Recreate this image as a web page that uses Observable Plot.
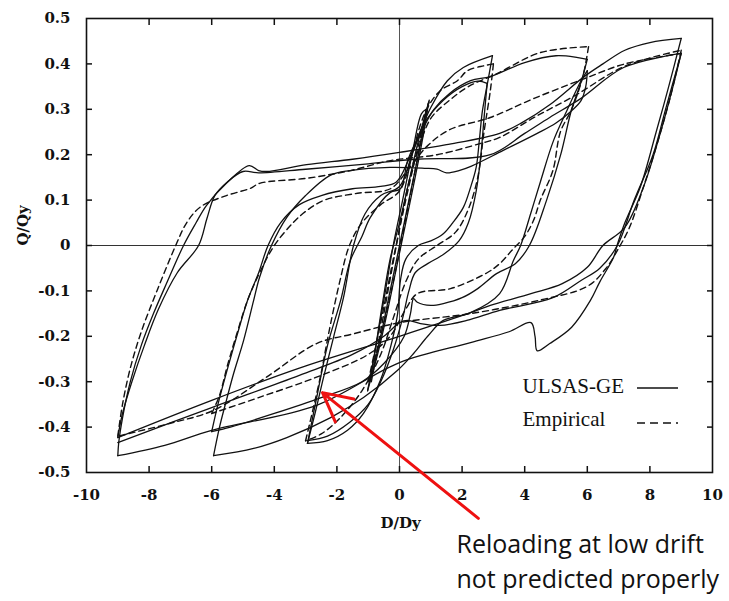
<!DOCTYPE html>
<html><head><meta charset="utf-8">
<script src="https://cdn.jsdelivr.net/npm/d3@7"></script>
<script src="https://cdn.jsdelivr.net/npm/@observablehq/plot@0.6"></script>
<style>body{margin:0;background:#fff}</style>
</head><body><div id="chart"></div>
<script>
// ---- tick labels ----
const xTicks = [-10,-8,-6,-4,-2,0,2,4,6,8,10];
const yTicks = [-0.5,-0.4,-0.3,-0.2,-0.1,0,0.1,0.2,0.3,0.4,0.5];
const xLabel = "D/Dy";
const yLabel = "Q/Qy";
const seriesNames = ["ULSAS-GE","Empirical"];
const noteLines = ["Reloading at low drift","not predicted properly"];

// ---- ULSAS-GE (solid) branches, [D/Dy, Q/Qy] ----
const ulsasUp9a = [[-9.0,-0.463],[-8.97,-0.434],[-8.85,-0.38],[-8.6,-0.3],[-8.25,-0.22],[-7.86,-0.15],[-7.42,-0.08],[-6.9,0],[-6.5,0.05],[-6.17,0.088],[-5.53,0.137],[-4.8,0.176],[-4.5,0.165],[-4.25,0.163],[-2.97,0.178],[-1.5,0.19],[0,0.205],[1.5,0.222],[3.2,0.247],[3.9,0.27],[4.8,0.31],[5.9,0.372],[6.5,0.4],[7.2,0.43],[8.0,0.447],[9.0,0.456]];
const ulsasDn9a = [[9.0,0.456],[8.6,0.35],[8.2,0.25],[7.7,0.13],[7.2,0.05],[6.95,0],[6.84,-0.026],[6.4,-0.08],[6.1,-0.121],[5.5,-0.18],[4.8,-0.216],[4.4,-0.232],[4.33,-0.2],[4.2,-0.17],[3.5,-0.19],[2.27,-0.214],[0,-0.258],[-2.65,-0.352],[-6.0,-0.407],[-7.5,-0.44],[-9.0,-0.463]];
const ulsasUp9b = [[-9.0,-0.423],[-8.85,-0.37],[-8.55,-0.3],[-8.15,-0.22],[-7.7,-0.14],[-7.1,-0.06],[-6.42,0],[-6.15,0.06],[-5.9,0.11],[-5.5,0.14],[-5.0,0.163],[-4.5,0.16],[-3.0,0.168],[-1.0,0.18],[0.5,0.19],[2.9,0.2],[4.0,0.247],[4.8,0.282],[5.8,0.324],[7.16,0.392],[8.98,0.423]];
const ulsasDn9b = [[9.0,0.423],[8.7,0.34],[8.3,0.24],[7.8,0.13],[7.2,0.04],[6.5,0],[6.0,-0.048],[5.2,-0.084],[4.2,-0.106],[2.9,-0.132],[2.27,-0.148],[0,-0.2],[-3.2,-0.27],[-6.0,-0.341],[-9.0,-0.423]];
const ulsasDn9c = [[9.0,0.423],[8.5,0.3],[8.1,0.2],[7.5,0.1],[6.96,0],[6.4,-0.05],[5.8,-0.077],[4.9,-0.115],[3.2,-0.143],[2.15,-0.165],[1.3,-0.176],[0.67,-0.172],[0.26,-0.165],[0,-0.17],[-0.5,-0.2],[-1.5,-0.24],[-3.2,-0.286],[-6.0,-0.357],[-9.0,-0.434]];
const ulsasUp6a = [[-5.94,-0.463],[-5.75,-0.4],[-5.53,-0.341],[-5.3,-0.282],[-4.98,-0.209],[-4.66,-0.121],[-4.47,-0.07],[-4.09,0],[-3.6,0.062],[-3.0,0.11],[-2.2,0.155],[-1.57,0.165],[-0.3,0.172],[0.8,0.17],[1.2,0.168],[1.5,0.16],[1.9,0.165],[2.3,0.175],[3.3,0.209],[4.4,0.247],[5.0,0.27],[5.5,0.297],[5.8,0.319],[5.95,0.35],[6.0,0.385]];
const ulsasDn6a = [[6.0,0.385],[5.78,0.36],[5.3,0.29],[4.92,0.231],[4.5,0.14],[4.19,0.07],[3.87,0],[3.64,-0.033],[3.2,-0.106],[2.27,-0.148],[1.4,-0.165],[0.9,-0.2],[0.45,-0.238],[-0.06,-0.275],[-1.15,-0.335],[-2.2,-0.379],[-3.6,-0.423],[-4.66,-0.447],[-5.94,-0.463]];
const ulsasUp6b = [[-6.0,-0.41],[-5.8,-0.35],[-5.53,-0.28],[-5.2,-0.2],[-4.85,-0.12],[-4.5,-0.06],[-4.2,0],[-3.8,0.05],[-3.2,0.09],[-2.5,0.11],[-1.5,0.125],[-0.6,0.13],[-0.1,0.14],[0.3,0.19],[0.7,0.25],[1.1,0.3],[1.6,0.335],[2.27,0.363],[2.9,0.372],[4.0,0.403],[5.0,0.418],[5.7,0.414],[6.0,0.41]];
const ulsasDn6b = [[6.0,0.41],[5.8,0.36],[5.5,0.3],[5.15,0.2],[4.7,0.1],[4.15,0],[3.7,-0.04],[3.1,-0.062],[2.5,-0.095],[2.0,-0.115],[1.4,-0.128],[1.0,-0.132],[0.57,-0.125],[0.45,-0.117],[0.35,-0.15],[0.15,-0.2],[-0.5,-0.26],[-1.2,-0.3],[-2.5,-0.335],[-4.0,-0.37],[-5.4,-0.4],[-6.0,-0.41]];
const ulsasUp3a = [[-2.94,-0.436],[-2.62,-0.326],[-2.3,-0.22],[-1.88,-0.121],[-1.57,-0.033],[-1.2,0.02],[-0.93,0.062],[-0.29,0.117],[0.03,0.125],[0.26,0.187],[0.58,0.238],[1.0,0.304],[1.53,0.363],[2.04,0.392],[2.97,0.418]];
const ulsasDn3a = [[2.97,0.418],[2.81,0.357],[2.65,0.297],[2.55,0.231],[2.45,0.172],[2.27,0.128],[2.04,0.084],[1.7,0.05],[1.4,0.026],[1.0,0.01],[0.6,0.0],[0.2,-0.03],[0.03,-0.077],[-0.06,-0.15],[-0.29,-0.225],[-0.61,-0.297],[-1.15,-0.37],[-1.66,-0.407],[-2.3,-0.43],[-2.94,-0.436]];
const ulsasUp3b = [[-2.94,-0.436],[-2.7,-0.37],[-2.46,-0.3],[-2.1,-0.2],[-1.79,-0.115],[-1.47,0],[-1.1,0.07],[-0.6,0.11],[0,0.13],[0.4,0.2],[0.8,0.27],[1.4,0.32],[2.0,0.35],[2.5,0.362],[2.8,0.357]];
const ulsasDn3b = [[2.8,0.357],[2.7,0.28],[2.6,0.2],[2.45,0.12],[2.2,0.05],[1.9,0.01],[1.4,-0.02],[0.9,-0.04],[0.5,-0.06],[0.3,-0.1],[0.1,-0.16],[-0.2,-0.23],[-0.6,-0.3],[-1.0,-0.35],[-1.6,-0.39],[-2.3,-0.42],[-2.94,-0.43]];
const ulsasUp1a = [[-1.02,-0.32],[-0.8,-0.24],[-0.55,-0.13],[-0.3,-0.03],[0,0.05],[0.3,0.14],[0.6,0.23],[0.93,0.315]];
const ulsasDn1a = [[0.93,0.315],[0.75,0.24],[0.5,0.15],[0.2,0.05],[-0.1,-0.05],[-0.4,-0.15],[-0.7,-0.24],[-1.02,-0.32]];
const ulsasUp1b = [[-0.95,-0.3],[-0.7,-0.2],[-0.45,-0.1],[-0.2,0.0],[0.1,0.1],[0.4,0.2],[0.7,0.29],[0.85,0.3]];
const ulsasDn1b = [[0.85,0.3],[0.6,0.2],[0.3,0.1],[0,0],[-0.3,-0.1],[-0.6,-0.2],[-0.9,-0.29]];

// ---- Empirical (dashed) branches ----
const empUp9 = [[-9.0,-0.42],[-8.85,-0.35],[-8.6,-0.27],[-8.25,-0.19],[-7.75,-0.1],[-7.15,0],[-6.8,0.05],[-6.36,0.085],[-5.53,0.11],[-4.76,0.126],[-4.47,0.137],[-2.97,0.148],[-1.57,0.165],[-0.29,0.187],[1.2,0.2],[2.6,0.225],[3.2,0.238],[4.3,0.282],[5.6,0.33],[7.2,0.395],[9.0,0.43]];
const empDn9 = [[9.0,0.43],[8.7,0.34],[8.3,0.24],[7.8,0.13],[7.35,0.04],[7.05,0],[6.6,-0.05],[6.0,-0.09],[4.5,-0.12],[2.27,-0.15],[0,-0.17],[-1.5,-0.195],[-2.65,-0.216],[-4.25,-0.29],[-5.94,-0.363],[-7.35,-0.392],[-9.0,-0.42]];
const empUp6a = [[-6.0,-0.37],[-5.75,-0.33],[-5.5,-0.265],[-5.2,-0.195],[-4.85,-0.12],[-4.47,-0.06],[-4.0,0],[-3.4,0.05],[-3.0,0.075],[-2.4,0.1],[-1.34,0.115],[-0.29,0.125],[0.3,0.17],[0.9,0.22],[1.6,0.255],[2.9,0.282],[4.3,0.324],[6.0,0.37],[7.2,0.4],[9.0,0.423]];
const empUp6b = [[-0.9,-0.3],[-0.5,-0.15],[-0.1,0.0],[0.3,0.14],[0.6,0.21],[1.0,0.28],[1.6,0.32],[2.2,0.35],[3.13,0.379],[4.5,0.425],[6.04,0.438]];
const empDn6 = [[6.04,0.438],[5.85,0.37],[5.5,0.3],[5.14,0.25],[4.9,0.165],[4.5,0.1],[4.28,0.055],[4.0,0.02],[3.6,-0.01],[3.2,-0.04],[2.8,-0.06],[1.63,-0.095],[0.57,-0.106],[0.2,-0.14],[-0.3,-0.2],[-1.0,-0.24],[-2.65,-0.29],[-4.5,-0.335],[-6.0,-0.37]];
const empUp3 = [[-3.0,-0.43],[-2.75,-0.357],[-2.5,-0.28],[-2.35,-0.225],[-2.2,-0.172],[-1.9,-0.077],[-1.6,0],[-1.2,0.05],[-0.6,0.09],[0,0.12],[0.4,0.2],[0.66,0.264],[0.9,0.304],[1.3,0.341],[1.85,0.363],[2.17,0.385],[2.7,0.396],[3.0,0.4]];
const empDn3 = [[3.0,0.4],[2.9,0.34],[2.7,0.25],[2.5,0.15],[2.2,0.08],[1.8,0.03],[1.2,0],[0.6,-0.03],[0.2,-0.08],[-0.2,-0.16],[-0.6,-0.24],[-1.2,-0.32],[-1.9,-0.38],[-2.5,-0.415],[-3.0,-0.43]];
const empUp1 = [[-1.0,-0.3],[-0.6,-0.17],[-0.2,-0.03],[0.2,0.1],[0.6,0.22],[0.95,0.32]];
const empDn1 = [[0.95,0.32],[0.6,0.2],[0.2,0.06],[-0.2,-0.08],[-0.6,-0.2],[-1.0,-0.3]];

// annotation arrow: tail (below axis) -> tip
const arrowTail = [2.52, -0.601];
const arrowTip = [-2.46, -0.324];

const solidPaths = [ulsasUp9a,ulsasDn9a,ulsasUp9b,ulsasDn9b,ulsasDn9c,ulsasUp6a,ulsasDn6a,ulsasUp6b,ulsasDn6b,ulsasUp3a,ulsasDn3a,ulsasUp3b,ulsasDn3b,ulsasUp1a,ulsasDn1a,ulsasUp1b,ulsasDn1b];
const dashedPaths = [empUp9,empDn9,empUp6a,empUp6b,empDn6,empUp3,empDn3,empUp1,empDn1];
const toRows = (paths, tag) => paths.flatMap((p, i) => p.map(([x, y]) => ({x, y, id: tag + i})));
const solidRows = toRows(solidPaths, "s");
const dashedRows = toRows(dashedPaths, "d");
const arrowRows = [{x1: arrowTail[0], y1: arrowTail[1], x2: arrowTip[0], y2: arrowTip[1]}];

const W = 729, H = 601, mL = 86, mR = 17, mT = 18, mB = 129;
const ink = "#111";
const axisFont = "'DejaVu Serif', serif";
const legendFont = "'Liberation Serif', 'DejaVu Serif', serif";
const noteFont = "'Open Sans', Lato, sans-serif";

const plot = Plot.plot({
  width: W, height: H,
  marginLeft: mL, marginRight: mR, marginTop: mT, marginBottom: mB,
  style: {fontFamily: axisFont, fontSize: "15px", background: "#fff", color: ink},
  x: {domain: [-10, 10]},
  y: {domain: [-0.5, 0.5]},
  marks: [
    Plot.ruleY([0], {stroke: "#333", strokeWidth: 1.2}),
    Plot.ruleX([0], {stroke: "#555", strokeWidth: 1}),
    Plot.line(solidRows, {x: "x", y: "y", z: "id", stroke: ink, strokeWidth: 1.3, curve: "catmull-rom"}),
    Plot.line(dashedRows, {x: "x", y: "y", z: "id", stroke: ink, strokeWidth: 1.4, strokeDasharray: "6,4", curve: "catmull-rom"}),
    Plot.frame({stroke: ink, strokeWidth: 1.6}),
    Plot.axisX(xTicks, {anchor: "bottom", tickSize: 0, tickPadding: 17, tickFormat: d => String(d), label: null, fontSize: 15, fontWeight: "bold"}),
    Plot.axisX(xTicks.slice(1, -1), {anchor: "bottom", tickSize: -6, tickFormat: () => "", label: null, strokeWidth: 1.5}),
    Plot.axisX(xTicks.slice(1, -1), {anchor: "top", tickSize: -6, tickFormat: () => "", label: null, strokeWidth: 1.5}),
    Plot.axisY(yTicks, {anchor: "left", tickSize: 0, tickPadding: 16, tickFormat: d => String(d), label: null, fontSize: 15, fontWeight: "bold"}),
    Plot.axisY(yTicks.slice(1, -1), {anchor: "left", tickSize: -6, tickFormat: () => "", label: null, strokeWidth: 1.5}),
    Plot.axisY(yTicks.slice(1, -1), {anchor: "right", tickSize: -6, tickFormat: () => "", label: null, strokeWidth: 1.5}),
    Plot.text([yLabel], {frameAnchor: "left", dx: -63, rotate: -90, fontSize: 15, fontWeight: "bold"}),
    Plot.text([xLabel], {frameAnchor: "bottom", dx: 1, dy: 55, fontSize: 15, fontWeight: "bold"}),
    Plot.text([seriesNames[0]], {frameAnchor: "bottom-right", dx: -190, dy: -80, textAnchor: "start", fontFamily: legendFont, fontSize: 21}),
    Plot.text([seriesNames[1]], {frameAnchor: "bottom-right", dx: -190, dy: -47, textAnchor: "start", fontFamily: legendFont, fontSize: 21}),
    Plot.arrow(arrowRows, {x1: "x1", y1: "y1", x2: "x2", y2: "y2", stroke: "#ee1111", strokeWidth: 3, headLength: 16, headAngle: 55}),
    Plot.text([noteLines[0]], {frameAnchor: "bottom-left", dx: 370, dy: 80, textAnchor: "start", fontFamily: noteFont, fontSize: 25, fill: "#111"}),
    Plot.text([noteLines[1]], {frameAnchor: "bottom-left", dx: 370, dy: 115, textAnchor: "start", fontFamily: noteFont, fontSize: 25, fill: "#111"})
  ]
});

// legend line samples (inside the frame, lower right)
const svg = d3.select(plot);
const right = W - mR, bottom = H - mB;
svg.append("line").attr("x1", right - 75).attr("x2", right - 34).attr("y1", bottom - 84).attr("y2", bottom - 84)
  .attr("stroke", ink).attr("stroke-width", 1.4);
svg.append("line").attr("x1", right - 75).attr("x2", right - 34).attr("y1", bottom - 49).attr("y2", bottom - 49)
  .attr("stroke", ink).attr("stroke-width", 1.4).attr("stroke-dasharray", "8,5");

document.getElementById("chart").appendChild(plot);
</script>
</body></html>
